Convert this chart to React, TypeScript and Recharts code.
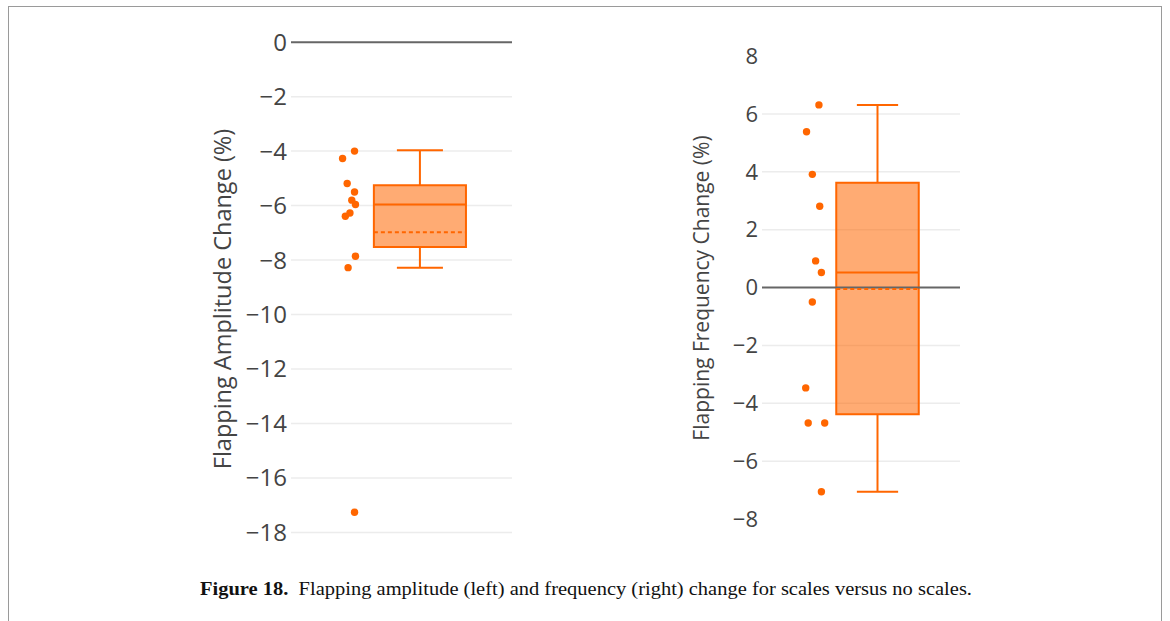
import React from "react";
import {
  ComposedChart,
  Scatter,
  XAxis,
  YAxis,
  CartesianGrid,
  ReferenceLine,
  ReferenceArea,
  Label,
} from "recharts";

// ---------- data ----------
const ampValues = [-4.0, -4.27, -5.19, -5.5, -5.8, -5.96, -6.27, -6.39, -7.86, -8.28, -17.26];
const ampJitter = [-0.71, -0.84, -0.79, -0.71, -0.74, -0.7, -0.76, -0.81, -0.7, -0.78, -0.71];
// [lower whisker, q1, median, mean, q3, upper whisker]
const ampStats = [-8.28, -7.52, -5.96, -6.98, -5.25, -3.97];
const ampTicks = [0, -2, -4, -6, -8, -10, -12, -14, -16, -18];
const ampGrid = [-2, -4, -6, -8, -10, -12, -14, -16, -18];
const ampDomain = [-18.5, 0.3];

const freqValues = [6.31, 5.38, 3.91, 2.81, 0.92, 0.52, -0.5, -3.47, -4.68, -4.68, -7.06];
const freqJitter = [-0.71, -0.86, -0.79, -0.7, -0.75, -0.68, -0.79, -0.87, -0.84, -0.64, -0.68];
const freqStats = [-7.06, -4.38, 0.52, -0.05, 3.62, 6.31];
const freqTicks = [8, 6, 4, 2, 0, -2, -4, -6, -8];
const freqGrid = [6, 4, 2, -2, -4, -6];
const freqDomain = [-8, 8];

const xDomain = [-1.4, 1.0];
const boxHalf = 0.5;
const capHalf = 0.25;

const ORANGE = "#ff6600";
const FONT = "'Open Sans', 'Noto Sans', sans-serif";

const fmtTick = (v: number) => String(v).replace("-", "\u2212");

type BoxProps = {
  values: number[];
  jitter: number[];
  stats: number[];
  ticks: number[];
  grid: number[];
  domain: number[];
  title: string;
  width: number;
  height: number;
  margin: { top: number; right: number; bottom: number; left: number };
  yAxisWidth: number;
  tickFont: number;
  titleFont: number;
  titleX: number;
  titleY: number;
};

function BoxChart(p: BoxProps) {
  const points = p.values.map((v, i) => ({ x: p.jitter[i], y: v }));
  const [lo, q1, med, mean, q3, hi] = p.stats;
  return (
    <ComposedChart width={p.width} height={p.height} margin={p.margin}>
      <CartesianGrid vertical={false} horizontalValues={p.grid} stroke="#ececec" strokeWidth={1.5} />
      <XAxis type="number" dataKey="x" domain={xDomain} hide allowDataOverflow />
      <YAxis
        type="number"
        dataKey="y"
        domain={p.domain}
        ticks={p.ticks}
        interval={0}
        allowDataOverflow
        width={p.yAxisWidth}
        axisLine={false}
        tickLine={false}
        tickSize={0}
        tickMargin={4}
        tickFormatter={fmtTick}
        tick={{ fill: "#444", fontSize: p.tickFont, fontFamily: FONT }}
      >
        <Label
          content={() => (
            <text
              x={p.titleX}
              y={p.titleY}
              transform={`rotate(-90, ${p.titleX}, ${p.titleY})`}
              textAnchor="middle"
              dominantBaseline="central"
              fill="#444"
              fontSize={p.titleFont}
              fontFamily={FONT}
            >
              {p.title}
            </text>
          )}
        />
      </YAxis>
      <ReferenceLine y={0} stroke="#666" strokeWidth={2} />
      <ReferenceArea
        x1={-boxHalf}
        x2={boxHalf}
        y1={q1}
        y2={q3}
        fill={ORANGE}
        fillOpacity={0.55}
        stroke={ORANGE}
        strokeWidth={2}
        strokeOpacity={1}
      />
      <ReferenceLine segment={[{ x: -boxHalf, y: med }, { x: boxHalf, y: med }]} stroke={ORANGE} strokeWidth={2} />
      <ReferenceLine
        segment={[{ x: -boxHalf, y: mean }, { x: boxHalf, y: mean }]}
        stroke={ORANGE}
        strokeWidth={2}
        strokeDasharray="4 3"
      />
      <ReferenceLine segment={[{ x: 0, y: q3 }, { x: 0, y: hi }]} stroke={ORANGE} strokeWidth={2} />
      <ReferenceLine segment={[{ x: 0, y: q1 }, { x: 0, y: lo }]} stroke={ORANGE} strokeWidth={2} />
      <ReferenceLine segment={[{ x: -capHalf, y: hi }, { x: capHalf, y: hi }]} stroke={ORANGE} strokeWidth={2} />
      <ReferenceLine segment={[{ x: -capHalf, y: lo }, { x: capHalf, y: lo }]} stroke={ORANGE} strokeWidth={2} />
      <Scatter
        data={points}
        dataKey="y"
        isAnimationActive={false}
        shape={(s: any) => <circle cx={s.cx} cy={s.cy} r={3.7} fill={ORANGE} />}
      />
    </ComposedChart>
  );
}

export default function App() {
  return (
    <div
      style={{
        position: "absolute",
        left: 0,
        top: 0,
        width: 1170,
        height: 621,
        background: "#fff",
        overflow: "hidden",
      }}
    >
      <div
        style={{
          position: "absolute",
          left: 8,
          top: 6,
          width: 1154,
          height: 700,
          border: "1px solid #9a9a9a",
          boxSizing: "border-box",
        }}
      />
      <div style={{ position: "absolute", left: 180, top: 0 }}>
        <BoxChart
          values={ampValues}
          jitter={ampJitter}
          stats={ampStats}
          ticks={ampTicks}
          grid={ampGrid}
          domain={ampDomain}
          title="Flapping Amplitude Change (%)"
          width={340}
          height={560}
          margin={{ top: 34, right: 8, bottom: 14, left: 0 }}
          yAxisWidth={111}
          tickFont={24}
          titleFont={23.5}
          titleX={42}
          titleY={299}
        />
      </div>
      <div style={{ position: "absolute", left: 660, top: 0 }}>
        <BoxChart
          values={freqValues}
          jitter={freqJitter}
          stats={freqStats}
          ticks={freqTicks}
          grid={freqGrid}
          domain={freqDomain}
          title="Flapping Frequency Change (%)"
          width={320}
          height={560}
          margin={{ top: 56, right: 20, bottom: 41, left: 0 }}
          yAxisWidth={102}
          tickFont={22}
          titleFont={21}
          titleX={41}
          titleY={288}
        />
      </div>
      <svg style={{ position: "absolute", left: 0, top: 0 }} width={1170} height={621}>
        <text
          x={200}
          y={595}
          fontFamily="'Liberation Serif', 'DejaVu Serif', serif"
          fontSize={18}
          fill="#111"
          textLength={772}
          lengthAdjust="spacingAndGlyphs"
        >
          <tspan fontWeight="bold">Figure 18.</tspan>
          <tspan>{"\u00a0\u00a0Flapping amplitude (left) and frequency (right) change for scales versus no scales."}</tspan>
        </text>
      </svg>
    </div>
  );
}
